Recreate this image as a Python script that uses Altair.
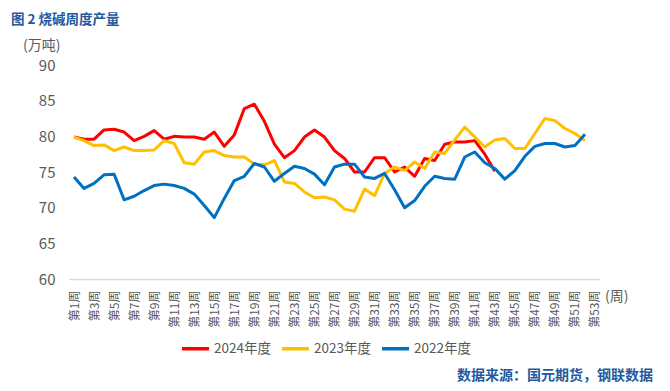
import altair as alt
import pandas as pd

weeks_labels = [f"第{i}周" for i in range(1, 54)]
series_names = ["2024年度", "2023年度", "2022年度"]
series_colors = ["#FF0000", "#FFC000", "#0070C0"]

y2024 = [79.9, 79.6, 79.6, 80.9, 81.0, 80.6, 79.4, 80.0, 80.8, 79.6,
         80.0, 79.9, 79.9, 79.6, 80.6, 78.6, 80.2, 83.9, 84.5, 82.1,
         78.9, 77.0, 78.0, 79.9, 80.9, 79.9, 78.0, 76.9, 75.0, 75.0,
         77.0, 77.0, 75.0, 75.7, 74.4, 76.9, 76.6, 78.9, 79.2, 79.2,
         79.4, 77.5, 75.1]
y2023 = [79.9, 79.4, 78.7, 78.8, 78.0, 78.5, 78.0, 78.0, 78.1, 79.4,
         79.0, 76.3, 76.1, 77.8, 78.0, 77.3, 77.1, 77.1, 76.1, 76.0,
         76.6, 73.6, 73.4, 72.2, 71.4, 71.5, 71.1, 69.8, 69.5, 72.6,
         71.7, 74.8, 75.7, 75.2, 76.4, 75.5, 77.8, 77.6, 79.5, 81.3,
         79.9, 78.5, 79.5, 79.7, 78.3, 78.3, 80.4, 82.5, 82.2, 81.1,
         80.4, 79.4]
y2022 = [74.3, 72.7, 73.4, 74.6, 74.7, 71.1, 71.6, 72.4, 73.1, 73.3,
         73.1, 72.7, 71.9, 70.3, 68.6, 71.3, 73.8, 74.4, 76.2, 75.7,
         73.7, 74.8, 75.8, 75.5, 74.7, 73.2, 75.7, 76.1, 76.1, 74.3,
         74.1, 74.8, 72.5, 70.0, 71.0, 73.0, 74.4, 74.1, 74.0, 77.1,
         77.8, 76.3, 75.5, 74.0, 75.2, 77.2, 78.6, 79.0, 79.0, 78.5,
         78.7, 80.3]

title_text = "图 2 烧碱周度产量"
unit_text = "(万吨)"
xunit_text = "(周)"
source_text = "数据来源：国元期货，钢联数据"

rows = []
for name, vals in zip(series_names, [y2024, y2023, y2022]):
    for i, v in enumerate(vals):
        rows.append({"week": i + 1, "value": v, "series": name})
df = pd.DataFrame(rows)

FONT = "Noto Sans CJK SC"
GREY = "#595959"
BLUE_T = "#1F5A9E"

lines = alt.Chart(df).mark_line(strokeWidth=3, strokeJoin="round").encode(
    x=alt.X("week:Q",
            scale=alt.Scale(domain=[0.5, 53.5], nice=False, zero=False),
            axis=alt.Axis(values=list(range(1, 54, 2)),
                          labelExpr="'第' + datum.value + '周'",
                          labelAngle=270, labelAlign="right", labelBaseline="middle",
                          labelFontSize=12, labelColor=GREY, labelFont=FONT,
                          labelPadding=11, ticks=False, grid=False,
                          domainColor="#D9D9D9", domainWidth=1.3, title=None,
                          labelOverlap=False)),
    y=alt.Y("value:Q",
            scale=alt.Scale(domain=[60, 90], nice=False, zero=False),
            axis=alt.Axis(values=[60, 65, 70, 75, 80, 85, 90], ticks=False,
                          domain=False, grid=False, labelFontSize=15,
                          labelColor=GREY, labelFont=FONT, labelPadding=14,
                          title=None)),
    color=alt.Color("series:N",
                    scale=alt.Scale(domain=series_names, range=series_colors),
                    sort=series_names,
                    legend=alt.Legend(title=None, orient="none", direction="horizontal",
                                      legendX=111, legendY=268,
                                      symbolType="stroke", symbolStrokeWidth=3.5,
                                      symbolSize=729, labelFontSize=13.5,
                                      labelColor=GREY, labelFont=FONT,
                                      columnPadding=4, labelOffset=3)),
)

one = pd.DataFrame({"t": [0]})

def label(text, x, y, size, color, weight="normal", align="left"):
    return alt.Chart(one).mark_text(text=text, font=FONT, fontSize=size, color=color,
                                    fontWeight=weight, align=align, baseline="middle").encode(
        x=alt.value(x), y=alt.value(y))

chart = alt.layer(
    lines,
    label(title_text, -58, -45, 13.5, BLUE_T, "bold"),
    label(unit_text, -46, -19, 14, GREY),
    label(xunit_text, 536, 232, 14, GREY),
    label(source_text, 388, 311, 14, BLUE_T, "bold"),
).properties(
    width=531, height=214,
    autosize=alt.AutoSizeParams(type="none"),
    padding={"left": 61, "top": 57, "right": 62, "bottom": 104},
).configure_view(stroke=None)

chart.save("out.html", embed_options={"renderer": "svg", "actions": False})
